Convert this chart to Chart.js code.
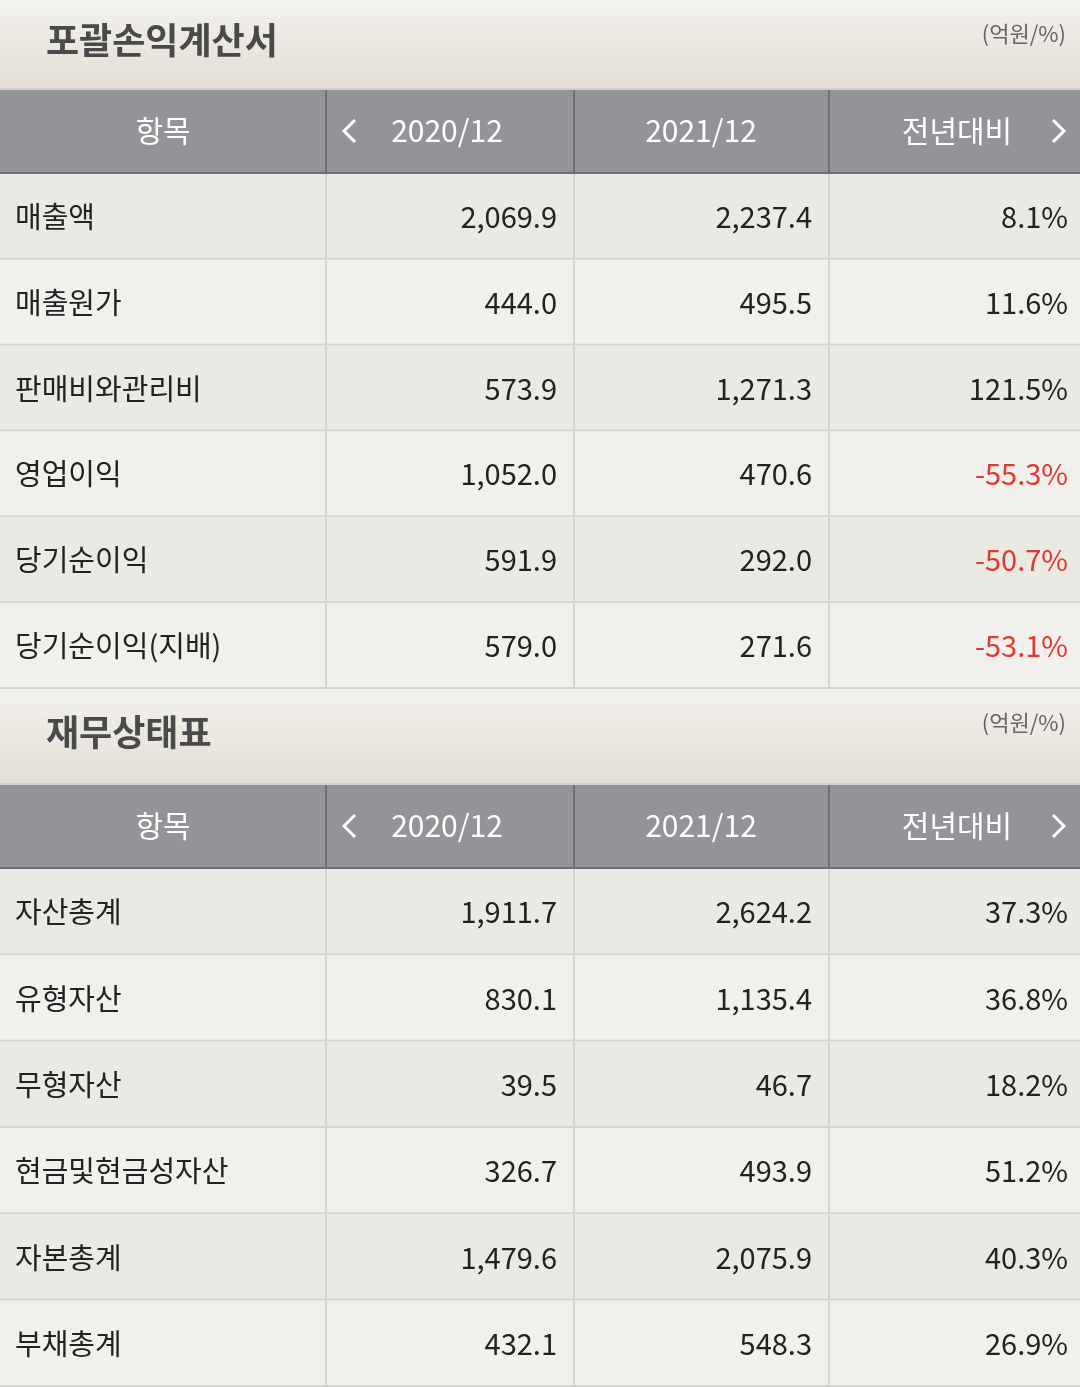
<!DOCTYPE html>
<html>
<head>
<meta charset="utf-8">
<script src="https://cdn.jsdelivr.net/npm/chart.js@4/dist/chart.umd.min.js"></script>
<style>
  body { margin: 0; background: #f1f0ec; }
  canvas { display: block; }
</style>
</head>
<body>
<canvas id="incomeChart" width="1080" height="689"></canvas>
<canvas id="balanceChart" width="1080" height="698"></canvas>
<script>
const columns = ['항목', '2020/12', '2021/12', '전년대비'];

const incomeItems = ['매출액', '매출원가', '판매비와관리비', '영업이익', '당기순이익', '당기순이익(지배)'];
const income2020 = [2069.9, 444.0, 573.9, 1052.0, 591.9, 579.0];
const income2021 = [2237.4, 495.5, 1271.3, 470.6, 292.0, 271.6];
const incomeYoY = [8.1, 11.6, 121.5, -55.3, -50.7, -53.1];

const balanceItems = ['자산총계', '유형자산', '무형자산', '현금및현금성자산', '자본총계', '부채총계'];
const balance2020 = [1911.7, 830.1, 39.5, 326.7, 1479.6, 432.1];
const balance2021 = [2624.2, 1135.4, 46.7, 493.9, 2075.9, 548.3];
const balanceYoY = [37.3, 36.8, 18.2, 51.2, 40.3, 26.9];

const FONT = '"Noto Sans CJK KR", "Noto Sans", sans-serif';
const colEdges = [0, 326, 574, 829, 1080];

// Format number with commas, one decimal
function fmt(v) {
    return v.toLocaleString('en-US', {minimumFractionDigits: 1, maximumFractionDigits: 1});
}

function makeTable(canvasId, title, bandH, items, v2020, v2021, yoy) {
    const tablePlugin = {
        id: 'table',
        beforeDraw(chart) {
            const ctx = chart.ctx;
            const W = chart.width;
            const area = chart.chartArea;
            const yScale = chart.scales.y;
            const rowH = (area.bottom - area.top) / items.length;
            const headTop = bandH + 2;
            const headBot = area.top - 2;

            // title band
            const g = ctx.createLinearGradient(0, 0, 0, bandH);
            g.addColorStop(0, '#f4f2ee');
            g.addColorStop(1, '#e2ded4');
            ctx.fillStyle = g;
            ctx.fillRect(0, 0, W, bandH);
            ctx.fillStyle = '#d2cfc8';
            ctx.fillRect(0, bandH, W, 2);

            ctx.textBaseline = 'middle';
            ctx.fillStyle = '#4a4a4a';
            ctx.font = 'bold 36px ' + FONT;
            ctx.textAlign = 'left';
            ctx.fillText(title, 46, bandH / 2 - 4);
            ctx.fillStyle = '#666';
            ctx.font = '22px ' + FONT;
            ctx.textAlign = 'right';
            ctx.fillText('(억원/%)', 1066, 34);

            // header row
            ctx.fillStyle = '#939497';
            ctx.fillRect(0, headTop, W, headBot - headTop);
            ctx.fillStyle = '#6e6f72';
            ctx.fillRect(0, headBot, W, 2);
            for (let i = 1; i < 4; i++) ctx.fillRect(colEdges[i] - 1, headTop, 2, headBot - headTop);
            const hy = (headTop + headBot) / 2;
            ctx.fillStyle = '#ffffff';
            ctx.font = '30px ' + FONT;
            ctx.textAlign = 'center';
            ctx.fillText(columns[0], 163, hy);
            ctx.fillText(columns[1], 447, hy);
            ctx.fillText(columns[2], 701, hy);
            ctx.fillText(columns[3], 957, hy);
            // arrows
            ctx.strokeStyle = '#ffffff';
            ctx.lineWidth = 3;
            ctx.beginPath();
            ctx.moveTo(355, hy - 11); ctx.lineTo(344, hy); ctx.lineTo(355, hy + 11);
            ctx.moveTo(1053, hy - 11); ctx.lineTo(1064, hy); ctx.lineTo(1053, hy + 11);
            ctx.stroke();

            // data rows
            items.forEach((item, i) => {
                const cy = yScale.getPixelForValue(i);
                const top = cy - rowH / 2;
                ctx.fillStyle = i % 2 === 0 ? '#ebe9e4' : '#f1f0ec';
                ctx.fillRect(0, top, W, rowH);
                ctx.fillStyle = '#d5d3cf';
                ctx.fillRect(0, top + rowH - 2, W, 2);
                for (let c = 1; c < 4; c++) ctx.fillRect(colEdges[c] - 1, top, 2, rowH);

                ctx.font = '29px ' + FONT;
                ctx.fillStyle = '#222';
                ctx.textAlign = 'left';
                ctx.fillText(item, 15, cy);
                ctx.textAlign = 'right';
                ctx.fillText(fmt(v2020[i]), colEdges[2] - 17, cy);
                ctx.fillText(fmt(v2021[i]), colEdges[3] - 17, cy);
                ctx.fillStyle = yoy[i] < 0 ? '#e0392f' : '#222';
                ctx.fillText(fmt(yoy[i]) + '%', W - 12, cy);
            });
        }
    };

    return new Chart(document.getElementById(canvasId), {
        type: 'bar',
        data: { labels: items, datasets: [{ data: items.map(() => null) }] },
        options: {
            responsive: false,
            animation: false,
            devicePixelRatio: 1,
            indexAxis: 'y',
            layout: { padding: { top: bandH + 86, bottom: 0, left: 0, right: 0 } },
            plugins: { legend: { display: false }, tooltip: { enabled: false } },
            scales: {
                x: { display: false },
                y: { display: false, offset: true }
            }
        },
        plugins: [tablePlugin]
    });
}

makeTable('incomeChart', '포괄손익계산서', 88, incomeItems, income2020, income2021, incomeYoY);
makeTable('balanceChart', '재무상태표', 94, balanceItems, balance2020, balance2021, balanceYoY);
</script>
</body>
</html>
